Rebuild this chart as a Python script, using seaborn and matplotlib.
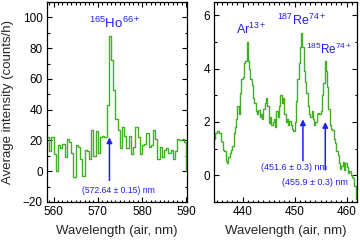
import numpy as np
import pandas as pd
import matplotlib
matplotlib.use("Agg")
import matplotlib.pyplot as plt
import seaborn as sns
from matplotlib.ticker import MultipleLocator

# ---------------- data ----------------
ho_start = 558.5          # first bin edge (nm)
ho_step = 0.5             # bin width (nm)
ho_counts = [22, 13, 22, 11, 0, 17, 15, 18, 9, 21,
             19, 12, -4, 17, 16, 8, -3, 14, 13, 8,
             27, 10, 26, 12, 22, 23, 22, 43, 88, 72,
             53, 34, 27, 15, 29, 23, 15, 23, 11, 16,
             29, 22, 11, 17, 18, 25, 16, 17, 27, 21,
             8, 16, 9, 14, 15, 12, 14, 8, 13, 21,
             20, 21, 19, 0]

re_start = 434.5
re_step = 0.25
re_counts = [1.35, 1.6, 1.65, 1.65, 1.6, 1.3, 1.25, 0.95, 0.9, 0.55,
             0.45, 0.7, 0.85, 0.95, 1.1, 1.6, 1.8, 2.1, 2.6, 2.3,
             3.1, 3.6, 3.7, 4.2, 4.3, 5.0, 4.3, 4.0, 3.6, 3.4,
             2.9, 2.7, 2.4, 2.3, 2.45, 2.2, 2.3, 2.1, 2.5, 2.7,
             2.9, 2.6, 1.95, 2.2, 1.9, 2.0, 2.1, 1.8, 2.4, 2.2,
             2.6, 3.0, 2.7, 2.9, 2.3, 2.0, 2.1, 1.9, 2.05, 1.9,
             1.75, 1.65, 2.0, 2.8, 3.6, 4.2, 4.8, 5.35, 4.8, 3.9,
             3.5, 3.1, 2.6, 2.3, 2.2, 2.4, 2.1, 1.9, 2.0, 2.3,
             2.35, 2.3, 2.4, 3.0, 3.45, 4.3, 3.9, 3.3, 2.5, 1.9,
             1.75, 1.7, 1.35, 1.2, 0.9, 0.75, 0.45, 0.25, 0.35, 0.5,
             0.2, 0.45, 0.3, 0.1, 0.15, 0.0, -0.05, -0.1, -0.4, -0.9]

ho_line_wl = 572.64
ho_line_text = "(572.64 ± 0.15) nm"
re_line_wl = [451.6, 455.9]
re_line_text = ["(451.6 ± 0.3) nm", "(455.9 ± 0.3) nm"]

ion_labels_left = [r"$^{165}\mathrm{Ho}^{66+}$"]
ion_labels_right = [r"$\mathrm{Ar}^{13+}$", r"$^{187}\mathrm{Re}^{74+}$", r"$^{185}\mathrm{Re}^{74+}$"]

# ---------------- style ----------------
sns.set_theme(style="ticks")
plt.rcParams["font.family"] = ["Liberation Sans", "DejaVu Sans"]
plt.rcParams["mathtext.fontset"] = "custom"
plt.rcParams["mathtext.rm"] = "Liberation Sans"
plt.rcParams["mathtext.it"] = "Liberation Sans:italic"
plt.rcParams["mathtext.bf"] = "Liberation Sans:bold"

GREEN = "#42b024"
BLUE = "#1f1fef"

fig = plt.figure(figsize=(3.6, 2.4), dpi=100)
axL = fig.add_axes([47 / 360, 38 / 240, 140 / 360, 200 / 240])
axR = fig.add_axes([214 / 360, 38 / 240, 143 / 360, 200 / 240])


def step_plot(ax, start, step, vals):
    edges = start + step * np.arange(len(vals) + 1)
    yv = list(vals) + [vals[-1]]
    df = pd.DataFrame({"wl": edges, "v": yv})
    sns.lineplot(data=df, x="wl", y="v", ax=ax, drawstyle="steps-post",
                 color=GREEN, lw=1.0, estimator=None, sort=False)


step_plot(axL, ho_start, ho_step, ho_counts)
step_plot(axR, re_start, re_step, re_counts)

axL.set_xlim(558.5, 590.2)
axL.set_ylim(-20, 110)
axR.set_xlim(434.5, 462)
axR.set_ylim(-1, 6.5)

axL.xaxis.set_major_locator(MultipleLocator(10))
axL.xaxis.set_minor_locator(MultipleLocator(1))
axL.yaxis.set_major_locator(MultipleLocator(20))
axL.yaxis.set_minor_locator(MultipleLocator(10))
axR.xaxis.set_major_locator(MultipleLocator(10))
axR.xaxis.set_minor_locator(MultipleLocator(1))
axR.yaxis.set_major_locator(MultipleLocator(2))
axR.yaxis.set_minor_locator(MultipleLocator(1))

for ax in (axL, axR):
    for s in ax.spines.values():
        s.set_linewidth(0.9)
        s.set_color("black")
        s.set_visible(True)
    ax.tick_params(which="both", direction="in", top=True, right=True,
                   width=0.8, colors="black", labelsize=8.5, pad=3)
    ax.tick_params(which="major", length=3.5)
    ax.tick_params(which="minor", length=1.8)
    ax.set_xlabel("Wavelength (air, nm)", fontsize=9.5, labelpad=5)
    ax.set_ylabel("")

fig.text(8 / 360, 0.575, "Average intensity (counts/h)", rotation=90,
         ha="center", va="center", fontsize=9.5)

# ---------------- annotations ----------------
arrow_kw = dict(arrowstyle="-|>", color=BLUE, lw=1.1, mutation_scale=8,
                shrinkA=0, shrinkB=0)

axL.text(573.8, 93, ion_labels_left[0], color=BLUE, fontsize=9.5,
         ha="center", va="baseline")
axL.annotate("", xy=(ho_line_wl, 22), xytext=(ho_line_wl, -6), arrowprops=arrow_kw)
axL.text(574.6, -12.5, ho_line_text, color=BLUE, fontsize=6.2, ha="center", va="center")

axR.text(441.6, 5.3, ion_labels_right[0], color=BLUE, fontsize=9, ha="center", va="baseline")
axR.text(451.4, 5.64, ion_labels_right[1], color=BLUE, fontsize=9, ha="center", va="baseline")
axR.text(456.6, 4.55, ion_labels_right[2], color=BLUE, fontsize=8.5, ha="center", va="baseline")

axR.annotate("", xy=(re_line_wl[0], 2.1), xytext=(re_line_wl[0], 0.55), arrowprops=arrow_kw)
axR.annotate("", xy=(re_line_wl[1], 2.0), xytext=(re_line_wl[1], 0.2), arrowprops=arrow_kw)
axR.text(449.9, 0.28, re_line_text[0], color=BLUE, fontsize=6.5, ha="center", va="center")
axR.text(453.9, -0.28, re_line_text[1], color=BLUE, fontsize=6.5, ha="center", va="center")

fig.savefig("out.png", dpi=100)
